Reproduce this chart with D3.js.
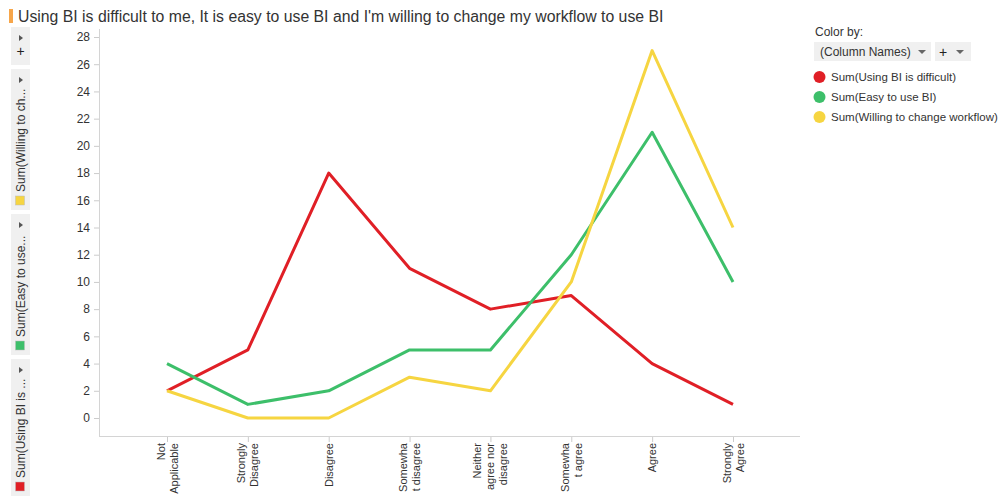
<!DOCTYPE html>
<html><head><meta charset="utf-8">
<script src="https://cdn.jsdelivr.net/npm/d3@7"></script>
<style>
body{margin:0;background:#fff;font-family:"Liberation Sans",Arial,sans-serif;}
svg{display:block;}
</style></head><body>
<svg id="c" width="1006" height="496"></svg>
<script>
const categories = ["Not Applicable","Strongly Disagree","Disagree","Somewhat disagree","Neither agree nor disagree","Somewhat agree","Agree","Strongly Agree"];
const categoryLines = [["Not","Applicable"],["Strongly","Disagree"],["Disagree"],["Somewha","t disagree"],["Neither","agree nor","disagree"],["Somewha","t agree"],["Agree"],["Strongly","Agree"]];
const difficult = [2,5,18,11,8,9,4,1];
const easy = [4,1,2,5,5,12,21,10];
const willing = [2,0,0,3,2,10,27,14];
const seriesNames = ["Sum(Using BI is difficult)","Sum(Easy to use BI)","Sum(Willing to change workflow)"];
const seriesColors = ["#e01f26","#3dbf6a","#f6d541"];
const yTicks = [0,2,4,6,8,10,12,14,16,18,20,22,24,26,28];
const titleText = "Using BI is difficult to me, It is easy to use BI and I'm willing to change my workflow to use BI";
const panelLabels = ["Sum(Willing to ch...","Sum(Easy to use...","Sum(Using BI is ..."];

const svg = d3.select("#c");
const series = [difficult, easy, willing];

// title
svg.append("rect").attr("x",9).attr("y",9).attr("width",4).attr("height",14).attr("fill","#f7a64a");
svg.append("text").attr("x",18).attr("y",22).attr("font-size",15.8).attr("fill","#333").text(titleText);

// scales
const axisX = 99, axisBottom = 436, axisRight = 800;
const x = d3.scalePoint().domain(categories).range([167,733]);
const y = d3.scaleLinear().domain([0,28]).range([418,37]);

// y axis
const ya = svg.append("g").attr("transform",`translate(${axisX},0)`)
  .call(d3.axisLeft(y).tickValues(yTicks).tickSize(5).tickPadding(4).tickFormat(d3.format("d")));
ya.select(".domain").remove();
ya.selectAll("line").attr("stroke","#ccc");
ya.selectAll("text").attr("font-size",12).attr("fill","#333").attr("font-family","Liberation Sans, Arial, sans-serif");
svg.append("line").attr("x1",axisX+0.5).attr("x2",axisX+0.5).attr("y1",29).attr("y2",axisBottom).attr("stroke","#d4d4d4");

// x axis
const xa = svg.append("g").attr("transform",`translate(0,${axisBottom})`)
  .call(d3.axisBottom(x).tickSize(6).tickFormat(""));
xa.select(".domain").remove();
xa.selectAll("line").attr("stroke","#ccc");
svg.append("line").attr("x1",axisX).attr("x2",axisRight).attr("y1",axisBottom+0.5).attr("y2",axisBottom+0.5).attr("stroke","#d4d4d4");

// x labels rotated
categories.forEach((c,i)=>{
  const lines = categoryLines[i];
  const n = lines.length, lh = 13;
  lines.forEach((ln,j)=>{
    const cx = x(c) + (j-(n-1)/2)*lh + 4;
    svg.append("text").attr("transform",`translate(${cx},${axisBottom+7}) rotate(-90)`)
      .attr("text-anchor","end").attr("font-size",11).attr("fill","#333").text(ln);
  });
});

// lines
const line = d3.line().x((d,i)=>x(categories[i])).y(d=>y(d));
series.forEach((s,k)=>{
  svg.append("path").datum(s).attr("d",line).attr("fill","none")
    .attr("stroke",seriesColors[k]).attr("stroke-width",3).attr("stroke-linejoin","round");
});

// left panels
const panels = [{y0:27,y1:65},{y0:69,y1:210},{y0:214,y1:355},{y0:359,y1:496}];
panels.forEach((p,i)=>{
  svg.append("rect").attr("x",11).attr("y",p.y0).attr("width",19).attr("height",p.y1-p.y0).attr("fill","#f0f0f0");
  svg.append("path").attr("d",`M19,${p.y0+8} L23,${p.y0+11} L19,${p.y0+14} Z`).attr("fill","#555");
  if(i===0){
    svg.append("text").attr("x",20.5).attr("y",p.y0+29).attr("text-anchor","middle").attr("font-size",14).attr("fill","#222").text("+");
  } else {
    const k = [2,1,0][i-1];
    svg.append("rect").attr("x",15.5).attr("y",p.y1-14).attr("width",9).attr("height",9)
      .attr("fill",seriesColors[k]).attr("stroke","#bbb").attr("stroke-width",0.5);
    svg.append("text").attr("transform",`translate(25,${p.y1-18}) rotate(-90)`)
      .attr("font-size",12).attr("fill","#333").text(panelLabels[i-1]);
  }
});

// legend
svg.append("text").attr("x",815).attr("y",36).attr("font-size",12).attr("fill","#333").text("Color by:");
svg.append("rect").attr("x",814).attr("y",42).attr("width",117).attr("height",19).attr("fill","#f0f0f0");
svg.append("text").attr("x",820).attr("y",56).attr("font-size",12).attr("fill","#333").text("(Column Names)");
svg.append("path").attr("d","M918,50 L926,50 L922,54 Z").attr("fill","#666");
svg.append("rect").attr("x",935).attr("y",42).attr("width",36).attr("height",19).attr("fill","#f0f0f0");
svg.append("text").attr("x",939).attr("y",57).attr("font-size",14).attr("fill","#222").text("+");
svg.append("path").attr("d","M956,50 L964,50 L960,54 Z").attr("fill","#666");
seriesNames.forEach((n,i)=>{
  const yy = 77 + i*20;
  svg.append("circle").attr("cx",819.5).attr("cy",yy).attr("r",6).attr("fill",seriesColors[i]);
  svg.append("text").attr("x",831).attr("y",yy+4).attr("font-size",11.5).attr("fill","#333").text(n);
});
</script>
</body></html>
